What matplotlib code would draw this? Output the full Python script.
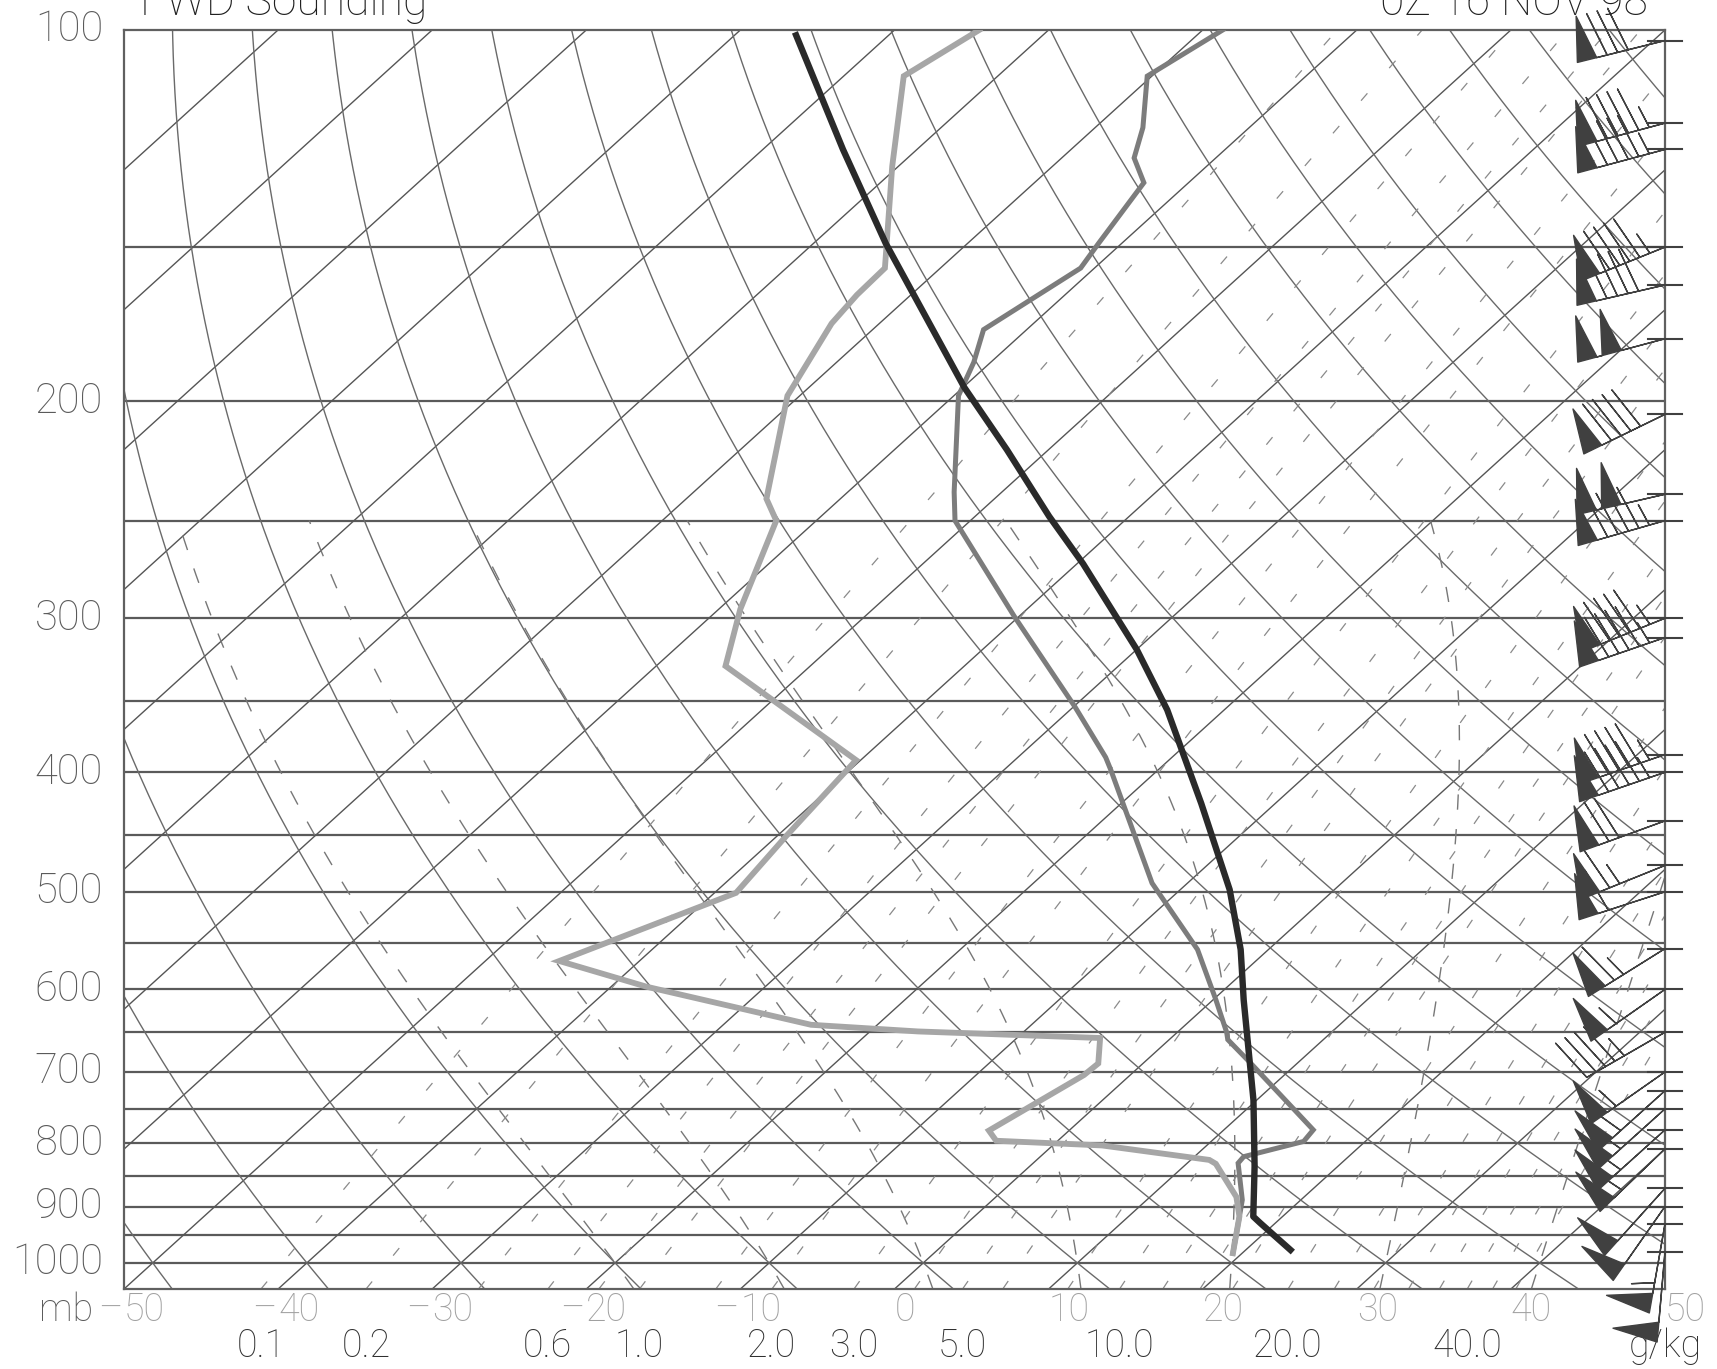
import numpy as np
import matplotlib
matplotlib.use('Agg')
import matplotlib.pyplot as plt
from matplotlib import transforms as mtransforms

# sounding values: pressure (mb), temperature (C)
temp_p = [100, 109, 120, 127, 133, 149, 156, 175, 186, 198, 237, 250, 299, 354, 389, 398,
          492, 557, 612, 650, 659, 687, 780, 797, 820, 830, 889, 917, 982]
temp_t = [-68.7, -70.3, -66.9, -65.3, -62.9, -61.5, -60.9, -62.8, -61.1, -59.7, -53.1, -51.0,
          -40.3, -29.9, -24.3, -23.1, -12.3, -4.6, 0.2, 3.2, 3.8, 6.8, 15.8, 16.0, 13.2, 13.3,
          16.2, 17.2, 19.4]

dewp_p = [100, 109, 129, 156, 164, 173, 198, 240, 250, 295, 328, 391, 451, 501, 569, 597,
          641, 649, 657, 689, 704, 781, 796, 803, 825, 831, 884, 917, 982]
dewp_t = [-84.5, -86.1, -80.4, -73.6, -73.5, -73.1, -70.8, -64.8, -62.6, -58.6, -55.5, -40.3,
          -39.4, -38.6, -45.2, -37.7, -24.3, -16.9, -4.6, -2.9, -3.0, -5.2, -4.0, 3.2, 11.2,
          11.9, 15.6, 17.2, 19.4]

parcel_p = [101, 125, 149, 195, 219, 248, 271, 318, 356, 424, 498, 557, 612, 738, 835,
            917, 928, 976]
parcel_t = [-96.0, -84.8, -75.3, -59.9, -52.7, -45.2, -39.6, -30.0, -23.7, -14.8, -6.8, -1.8,
            2.0, 9.8, 14.6, 18.1, 19.0, 22.9]

# winds (direction deg, speed kt)
wind_p = [102, 119, 125, 150, 161, 178, 205, 238, 250, 300, 311, 387, 400, 438, 476, 500,
          556, 600, 650, 700, 725, 750, 780, 808, 870, 900, 930, 980]
wind_dir = [256, 255, 255, 248, 257, 255, 244, 257, 254, 248, 251, 251, 251, 250, 248, 252,
            238, 235, 240, 235, 228, 228, 228, 226, 222, 215, 190, 185]
wind_spd = [80, 95, 95, 95, 90, 100, 90, 100, 95, 95, 95, 95, 95, 70, 65, 60,
            65, 55, 45, 55, 60, 60, 60, 55, 50, 50, 55, 50]

# diagram background
isobars = list(range(150, 1050, 50))
isotherms = list(range(-140, 60, 10))
dry_theta = list(range(-50, 190, 10))
moist_thetaw = [-20, -10, 0, 10, 20, 30, 40]
mix_ratios = [0.1, 0.2, 0.4, 0.6, 0.8, 1.0, 1.5, 2.0, 3.0, 4.0, 5.0, 6.0, 8.0, 10.0, 12.0,
              14.0, 16.0, 20.0, 24.0, 28.0, 32.0, 36.0, 40.0, 44.0, 48.0]
mix_labels = [0.1, 0.2, 0.6, 1.0, 2.0, 3.0, 5.0, 10.0, 20.0, 40.0]
p_labels = list(range(100, 1100, 100))
t_labels = list(range(-50, 60, 10))

P_BOT, P_TOP = 1050.0, 100.0
SKEW = 90.0 / np.log(P_BOT / P_TOP)


def skx(t, p):
    return np.asarray(t, float) + SKEW * np.log(P_BOT / np.asarray(p, float))


def es(tc):
    return 6.112 * np.exp(17.67 * tc / (tc + 243.5))


def mix_td(w, p):
    e = w * p / (622.0 + w)
    a = np.log(e / 6.112)
    return 243.5 * a / (17.67 - a)


def moist_line(tw, p_end):
    Rd, cp, Lv, eps = 287.04, 1005.7, 2.501e6, 0.622
    out = []
    for stop in (P_BOT, p_end):
        lp = np.linspace(np.log(1000.0), np.log(stop), 300)
        T = tw + 273.15
        ps, ts = [1000.0], [tw]
        for i in range(1, len(lp)):
            p = np.exp(lp[i - 1])
            e = es(T - 273.15)
            rs = eps * e / (p - e)
            dT = (Rd * T + Lv * rs) / (cp + Lv * Lv * rs * eps / (Rd * T * T))
            T = T + dT * (lp[i] - lp[i - 1])
            ps.append(np.exp(lp[i]))
            ts.append(T - 273.15)
        out.append((np.array(ps), np.array(ts)))
    p = np.concatenate([out[0][0][::-1], out[1][0][1:]])
    t = np.concatenate([out[0][1][::-1], out[1][1][1:]])
    return p, t


plt.rcParams['font.family'] = ['Roboto', 'DejaVu Sans']
plt.rcParams['lines.scale_dashes'] = False

fig = plt.figure(figsize=(17.17, 13.69), dpi=100)
ax = fig.add_axes([0.0722, 0.0584, 0.8975, 0.9197])
ax.set_yscale('log')
ax.set_xlim(-50, 50)
ax.set_ylim(P_BOT, P_TOP)
ax.set_xticks([])
ax.set_yticks([])
ax.minorticks_off()
for s in ax.spines.values():
    s.set_color('#606060')
    s.set_linewidth(1.6)

pp = np.geomspace(P_BOT, P_TOP, 200)

for p in isobars:
    ax.axhline(p, color='#5a5a5a', lw=1.6, zorder=1)

for t0 in isotherms:
    ax.plot(skx([t0, t0], [P_BOT, P_TOP]), [P_BOT, P_TOP], color='#555555', lw=1.0, zorder=1)

for th in dry_theta:
    tt = (th + 273.15) * (pp / 1000.0) ** 0.2857 - 273.15
    ax.plot(skx(tt, pp), pp, color='#6a6a6a', lw=1.0, zorder=1)

for tw in moist_thetaw:
    mp, mt = moist_line(tw, 250.0)
    ax.plot(skx(mt, mp), mp, color='#777777', lw=1.0, ls=(0, (11, 14)), zorder=1)

for w in mix_ratios:
    ax.plot(skx(mix_td(w, pp), pp), pp, color='#8a8a8a', lw=0.9, ls=(0, (7, 24)), zorder=1)

# profiles
ax.plot(skx(temp_t, temp_p), temp_p, color='#7c7c7c', lw=3.6, zorder=3, solid_joinstyle='miter')
ax.plot(skx(dewp_t, dewp_p), dewp_p, color='#a6a6a6', lw=4.2, zorder=4, solid_joinstyle='miter')
ax.plot(skx(parcel_t, parcel_p), parcel_p, color='#2a2a2a', lw=4.6, zorder=5)

# wind barbs along the right edge
wd = np.radians(wind_dir)
u = -np.array(wind_spd) * np.sin(wd)
v = -np.array(wind_spd) * np.cos(wd)
ax.barbs(np.full(len(wind_p), 50.0), wind_p, u, v, length=11.4, pivot='tip',
         sizes=dict(height=0.5, width=0.22, spacing=0.12),
         color='#404040', linewidth=1.0, clip_on=False, zorder=6)
edge = mtransforms.blended_transform_factory(ax.transAxes, ax.transData)
for p in wind_p:
    ax.plot([0.989, 1.011], [p, p], transform=edge, color='#404040', lw=1.5,
            clip_on=False, zorder=6)

# labels
for p in p_labels:
    ax.text(-0.0136, p, str(p), transform=edge, ha='right', va='center',
            fontsize=30, color='#5a5a5a', fontweight='light')

bot = mtransforms.blended_transform_factory(ax.transData, ax.transAxes)
ax.text(-0.02, -0.0165, 'mb', transform=ax.transAxes, ha='right', va='center',
        fontsize=27, color='#5a5a5a', fontweight='light')
for t in t_labels:
    ax.text(t, -0.0165, str(abs(t)), transform=bot, ha='left', va='center',
            fontsize=27, color='#a0a0a0', fontweight='light', clip_on=False)
    if t < 0:
        ax.text(t - 0.1, -0.0165, '\u2013', transform=bot, ha='right', va='center',
                fontsize=27, color='#a0a0a0', fontweight='light', clip_on=False)

for w in mix_labels:
    ax.text(mix_td(w, P_BOT), -0.0455, f'{w:.1f}', transform=bot, ha='center', va='center',
            fontsize=27, color='#303030', fontweight='light', clip_on=False)
ax.text(50, -0.0455, 'g/kg', transform=bot, ha='center', va='center',
        fontsize=27, color='#303030', fontweight='light', clip_on=False)

fig.text(0.0815, 1 - 15 / 1369, 'FWD Sounding', ha='left', va='baseline',
         fontsize=32, color='#202020', fontweight='light')
fig.text(0.9598, 1 - 15 / 1369, '0Z 16 NOV 98', ha='right', va='baseline',
         fontsize=32, color='#202020', fontweight='light')

fig.savefig('out.png', dpi=100)
